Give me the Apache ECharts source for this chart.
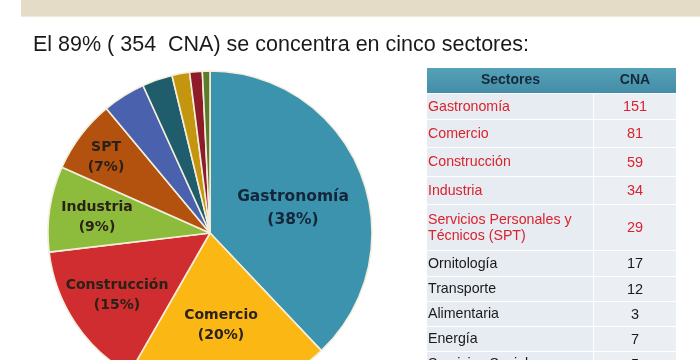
<!DOCTYPE html>
<html>
<head>
<meta charset="utf-8">
<script src="https://cdn.jsdelivr.net/npm/echarts@6/dist/echarts.min.js"></script>
<style>html,body{margin:0;padding:0;background:#fff}#c{width:700px;height:360px}</style>
</head>
<body>
<div id="c"></div>
<script>
// ---- data ----
const subtitle = 'El 89% ( 354  CNA) se concentra en cinco sectores:';
const tableHeader = ['Sectores', 'CNA'];
const sectors = ['Gastronomía', 'Comercio', 'Construcción', 'Industria', 'Servicios Personales y\nTécnicos (SPT)', 'Ornitología', 'Transporte', 'Alimentaria', 'Energía', 'Servicios Sociales'];
const pieNames = ['Gastronomía', 'Comercio', 'Construcción', 'Industria', 'SPT', 'Ornitología', 'Transporte', 'Alimentaria', 'Energía', 'Servicios Sociales'];
const cna = [151, 81, 59, 34, 29, 17, 12, 3, 7, 5];
const highlighted = [true, true, true, true, true, false, false, false, false, false];

// ---- styles / layout ----
const sliceColors = {
  'Gastronomía': '#3b93ae', 'Comercio': '#fbb714', 'Construcción': '#cf2d2f', 'Industria': '#8dbb3b',
  'SPT': '#b3520f', 'Ornitología': '#4a62ad', 'Transporte': '#1f5d6c', 'Energía': '#c4960f',
  'Servicios Sociales': '#8e1b2a', 'Alimentaria': '#5b7d2b'
};
// label centre offsets from the pie centre (layout only)
const labelOffset = { 'Gastronomía': [83, -25], 'Comercio': [11, 92], 'Construcción': [-93, 62], 'Industria': [-113, -16], 'SPT': [-104, -76] };
const labelSize = { 'Gastronomía': 15.5 };
const labelLH = { 'Gastronomía': 23 };
const labelColor = { 'Gastronomía': '#14263a' };
const pieCenter = [210, 233];
const pieR = 162;

const rowHeights = [26, 28, 29, 28, 46, 26, 25, 25, 25, 25];
const tableLeft = 427, tableRight = 676, colDiv = 594, headerTop = 68, headerH = 25;

// pie data sorted descending (as drawn)
const pieData = pieNames.map((n, i) => ({ name: n, value: cna[i] }))
  .sort((a, b) => b.value - a.value)
  .map(d => ({
    name: d.name, value: d.value,
    itemStyle: { color: sliceColors[d.name] },
    label: { show: labelOffset[d.name] !== undefined, fontSize: labelSize[d.name] || 14,
             lineHeight: labelLH[d.name] || 20, color: labelColor[d.name] || '#2a2118' }
  }));

// table graphics
const g = [];
g.push({ type: 'rect', shape: { x: 21, y: 0, width: 679, height: 16 }, style: { fill: '#e4dcc7' }, z: 1 });
g.push({ type: 'rect', shape: { x: 21, y: 16, width: 679, height: 1 }, style: { fill: '#efe9dc' }, z: 1 });
g.push({ type: 'rect', shape: { x: tableLeft, y: headerTop, width: tableRight - tableLeft, height: headerH },
  style: { fill: new echarts.graphic.LinearGradient(0, 0, 0, 1, [{ offset: 0, color: '#55a1b8' }, { offset: 1, color: '#438ea6' }]) }, z: 1 });
g.push({ type: 'text', x: (tableLeft + colDiv) / 2, y: headerTop + headerH / 2,
  style: { text: tableHeader[0], font: 'bold 14px "Liberation Sans"', fill: '#16283a', align: 'center', verticalAlign: 'middle' }, z: 3 });
g.push({ type: 'text', x: (colDiv + tableRight) / 2, y: headerTop + headerH / 2,
  style: { text: tableHeader[1], font: 'bold 14px "Liberation Sans"', fill: '#16283a', align: 'center', verticalAlign: 'middle' }, z: 3 });
let y = headerTop + headerH;
sectors.forEach((s, i) => {
  const h = rowHeights[i];
  const col = highlighted[i] ? '#d9232d' : '#1a1a1a';
  g.push({ type: 'rect', shape: { x: tableLeft, y: y + 1, width: colDiv - tableLeft - 1, height: h - 1 }, style: { fill: '#e7ecf2' }, z: 1 });
  g.push({ type: 'rect', shape: { x: colDiv, y: y + 1, width: tableRight - colDiv, height: h - 1 }, style: { fill: '#ebeff4' }, z: 1 });
  g.push({ type: 'text', x: tableLeft + 1, y: y + h / 2 + 1,
    style: { text: s, font: '14.2px "Liberation Sans"', fill: col, verticalAlign: 'middle', lineHeight: 16 }, z: 3 });
  g.push({ type: 'text', x: (colDiv + tableRight) / 2, y: y + h / 2 + 1,
    style: { text: String(cna[i]), font: '14.5px "Liberation Sans"', fill: col, align: 'center', verticalAlign: 'middle' }, z: 3 });
  y += h;
});

const chart = echarts.init(document.getElementById('c'), null, { renderer: 'canvas' });
chart.setOption({
  backgroundColor: '#ffffff',
  animation: false,
  title: {
    text: subtitle, left: 28, top: 29,
    textStyle: { fontSize: 21.5, fontWeight: 'normal', fontFamily: '"Liberation Sans", Arial, sans-serif', color: '#1a1a1a' }
  },
  graphic: g,
  series: [{
    type: 'pie',
    center: pieCenter,
    radius: [0, pieR],
    startAngle: 90,
    clockwise: true,
    avoidLabelOverlap: false,
    itemStyle: { borderColor: '#f4eedd', borderWidth: 1.6 },
    label: {
      position: 'inside',
      formatter: p => p.name + '\n(' + Math.round(p.percent) + '%)',
      fontFamily: '"DejaVu Sans", sans-serif',
      fontWeight: 'bold',
      align: 'center'
    },
    labelLine: { show: false },
    labelLayout: function (params) {
      const name = pieData[params.dataIndex].name;
      const off = labelOffset[name];
      if (!off) return {};
      const rect = params.labelRect;
      const cx = rect.x + rect.width / 2, cy = rect.y + rect.height / 2;
      return { dx: pieCenter[0] + off[0] - cx, dy: pieCenter[1] + off[1] - cy };
    },
    data: pieData
  }]
});
</script>
</body>
</html>
